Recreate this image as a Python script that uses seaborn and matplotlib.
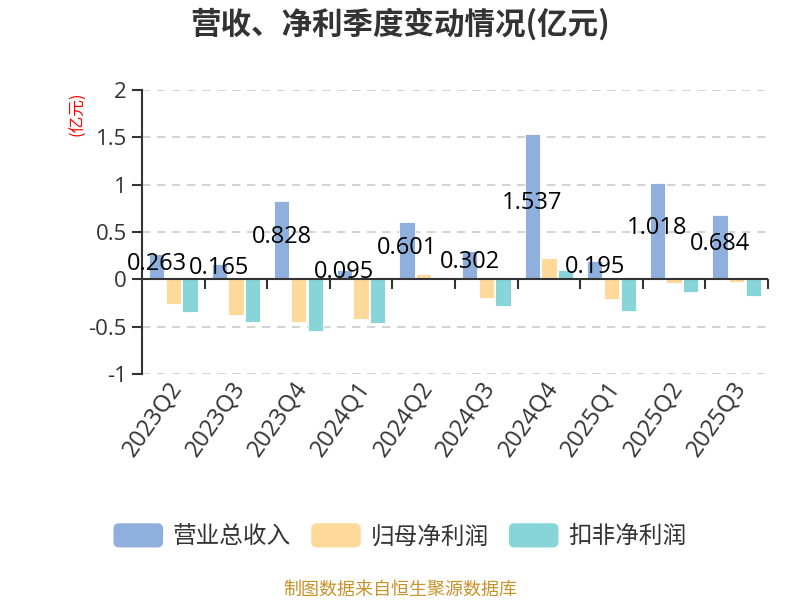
import numpy as np
import pandas as pd
import matplotlib
matplotlib.use('Agg')
import matplotlib.pyplot as plt
import matplotlib.transforms as mtransforms
import seaborn as sns
from matplotlib.patches import FancyBboxPatch
from matplotlib.legend_handler import HandlerPatch

quarters = ['2023Q2', '2023Q3', '2023Q4', '2024Q1', '2024Q2',
            '2024Q3', '2024Q4', '2025Q1', '2025Q2', '2025Q3']
revenue = [0.263, 0.165, 0.828, 0.095, 0.601, 0.302, 1.537, 0.195, 1.018, 0.684]
net_profit = [-0.26, -0.376, -0.454, -0.418, 0.06, -0.199, 0.23, -0.206, -0.035, -0.025]
deducted_profit = [-0.35, -0.447, -0.55, -0.465, 0.004, -0.287, 0.103, -0.333, -0.135, -0.177]
series_names = ['营业总收入', '归母净利润', '扣非净利润']
colors = ['#8FAFDC', '#FFD99A', '#87D5D8']

sns.set_theme(style='white')
plt.rcParams['font.family'] = ['Open Sans', 'Noto Sans CJK SC', 'DejaVu Sans']
plt.rcParams['axes.unicode_minus'] = False
cjk = ['Noto Sans CJK SC', 'DejaVu Sans']


class RoundBox(HandlerPatch):
    def create_artists(self, legend, orig_handle, xdescent, ydescent, width, height, fontsize, trans):
        p = FancyBboxPatch((-xdescent, -ydescent), width, height,
                           boxstyle='round,pad=0,rounding_size=4',
                           facecolor=orig_handle.get_facecolor(), edgecolor='none',
                           transform=trans)
        return [p]


df = pd.DataFrame({
    'quarter': quarters * 3,
    'value': revenue + net_profit + deducted_profit,
    'series': [series_names[0]] * 10 + [series_names[1]] * 10 + [series_names[2]] * 10,
})

fig = plt.figure(figsize=(8, 6), dpi=100)
ax = fig.add_axes([0.1775, 0.3767, 0.7825, 0.4733])

sns.barplot(data=df, x='quarter', y='value', hue='series', palette=colors, saturation=1,
            width=0.8, gap=0.08, edgecolor='white', linewidth=0.6, ax=ax, legend=False)

# labels for revenue bars, placed in the middle of the bar
for p, v in zip(ax.containers[0], revenue):
    ax.text(p.get_x() + p.get_width() / 2, p.get_height() / 2 + 0.035, f'{v:.3f}',
            ha='center', va='center', fontsize=17, color='black')

ax.set_ylim(-1, 2)
ax.set_xlim(-0.5, len(quarters) - 0.5)
ax.set_yticks([-1, -0.5, 0, 0.5, 1, 1.5, 2])
ax.set_yticklabels(['-1', '-0.5', '0', '0.5', '1', '1.5', '2'], fontsize=16, color='#333333')
ax.yaxis.grid(True, linestyle=(0, (5, 4)), color='#cccccc', linewidth=1.2)
ax.set_axisbelow(True)
ax.tick_params(axis='y', length=7, width=1.5, color='#333333', left=True, pad=4)

for s in ['top', 'right', 'bottom']:
    ax.spines[s].set_visible(False)
ax.spines['left'].set_color('#333333')
ax.spines['left'].set_linewidth(1.5)

# axis line at zero with ticks at category boundaries
ax.axhline(0, color='#333333', linewidth=1.5, zorder=3)
bounds = np.arange(len(quarters)) + 0.5
ax.plot(bounds, np.zeros(len(bounds)), ls='none', marker=3, ms=7, mew=1.5,
        color='#333333', zorder=3, clip_on=False)

ax.set_xticks(range(len(quarters)))
ax.set_xticklabels(quarters, rotation=55, ha='right', rotation_mode='anchor',
                   fontsize=17, color='#333333')
ax.tick_params(axis='x', length=0, pad=2)
shift = mtransforms.ScaledTranslation(-5 / 100, 0, fig.dpi_scale_trans)
for lab in ax.get_xticklabels():
    lab.set_transform(lab.get_transform() + shift)
ax.set_xlabel('')
ax.set_ylabel('')

fig.text(0.097, 0.847, '(亿元)', rotation=90, color='red', fontsize=12,
         ha='center', va='top', family=cjk)
fig.text(0.5, 0.96, '营收、净利季度变动情况(亿元)', ha='center', va='center',
         fontsize=22, fontweight='bold', color='#333333', family=cjk)

handles = [plt.Rectangle((0, 0), 1, 1, facecolor=c) for c in colors]
leg = fig.legend(handles, series_names, loc='center', bbox_to_anchor=(0.5, 0.107),
                 ncol=3, frameon=False, handlelength=2.1, handleheight=1.2,
                 columnspacing=0.85, handletextpad=0.42, labelcolor='#333333',
                 prop={'family': cjk, 'size': 17},
                 handler_map={plt.Rectangle: RoundBox()})

fig.text(0.5, 0.0167, '制图数据来自恒生聚源数据库', ha='center', va='center',
         fontsize=13, color='#C8922A', family=cjk)

fig.savefig('out.png', dpi=100)
